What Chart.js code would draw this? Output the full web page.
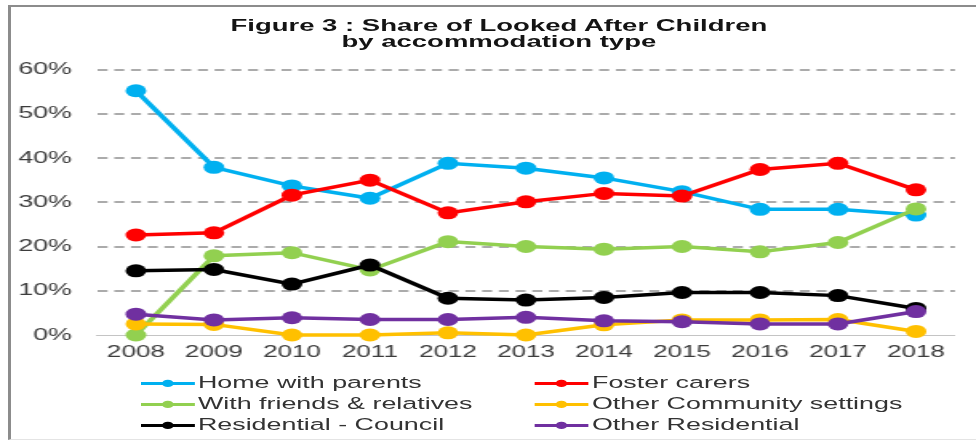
<!DOCTYPE html>
<html>
<head>
<meta charset="utf-8">
<script src="https://cdn.jsdelivr.net/npm/chart.js@4.4.1/dist/chart.umd.min.js"></script>
<style>
  html, body { margin: 0; padding: 0; background: #fff; overflow: hidden; }
  #page { position: relative; width: 976px; height: 442px; overflow: hidden;
          font-family: "Liberation Sans", Arial, sans-serif; }
  #frame { position: absolute; left: 8px; top: 5px; width: 1000px; height: 435px;
           box-sizing: border-box; border-left: 3px solid #8c8c8c;
           border-top: 2px solid #8c8c8c; border-bottom: 1px solid #e4e4e4; }
  /* the figure is laid out narrow and widened horizontally */
  #stretch { position: absolute; left: 0; top: 0; width: 610px; height: 442px;
             transform: scaleX(1.6); transform-origin: 0 0; }
  #title { position: absolute; left: 0; top: 16.8px; width: 623.6px; text-align: center;
           font-weight: bold; font-size: 17.2px; line-height: 16px; color: #141414; }
  #wrap { position: absolute; left: 0; top: 0; width: 610px; height: 442px; }
  .item { position: absolute; height: 20.8px; line-height: 20.8px; font-size: 16.8px;
          color: #333; white-space: nowrap; }
  .item svg { position: absolute; left: 0; top: 0; }
  .item span { position: absolute; left: 35.6px; top: 0; }
</style>
</head>
<body>
<div id="page">
  <div id="frame"></div>
  <div id="stretch">
    <div id="title">Figure 3 : Share of Looked After Children<br>by accommodation type</div>
    <div id="wrap"><canvas id="chart"></canvas></div>
    <div id="legend"></div>
  </div>
</div>
<script>
// Share of looked after children by accommodation type (%)
const years = ['2008', '2009', '2010', '2011', '2012', '2013', '2014', '2015', '2016', '2017', '2018'];
const homeWithParents    = [55.2, 37.9, 33.7, 30.9, 38.8, 37.7, 35.5, 32.4, 28.4, 28.4, 27.1];
const fosterCarers       = [22.6, 23.1, 31.6, 35.0, 27.6, 30.1, 32.0, 31.4, 37.4, 38.8, 32.8];
const friendsRelatives   = [0.0, 17.9, 18.6, 14.7, 21.1, 20.0, 19.4, 20.0, 18.8, 20.9, 28.5];
const otherCommunity     = [2.5, 2.4, 0.0, 0.0, 0.5, 0.0, 2.3, 3.4, 3.4, 3.5, 0.8];
const residentialCouncil = [14.5, 14.8, 11.5, 15.8, 8.3, 7.9, 8.5, 9.6, 9.6, 8.9, 6.0];
const otherResidential   = [4.7, 3.4, 3.9, 3.5, 3.5, 4.0, 3.2, 3.0, 2.5, 2.5, 5.3];
const seriesNames = ['Home with parents', 'Foster carers', 'With friends & relatives',
                     'Other Community settings', 'Residential - Council', 'Other Residential'];
const yTickLabels = ['0%', '10%', '20%', '30%', '40%', '50%', '60%'];

const seriesValues = [homeWithParents, fosterCarers, friendsRelatives,
                      otherCommunity, residentialCouncil, otherResidential];
const palette = ['#00B0F0', '#FF0000', '#92D050', '#FFC000', '#000000', '#7030A0'];

Chart.defaults.font.family = '"Liberation Sans", Arial, sans-serif';

const datasets = seriesValues.map((vals, i) => ({
  label: seriesNames[i],
  data: vals,
  borderColor: palette[i],
  backgroundColor: palette[i],
  pointBackgroundColor: palette[i],
  pointBorderWidth: 0,
  pointRadius: 6.5,
  borderWidth: 3.5,
  tension: 0,
  clip: false,
  order: seriesValues.length - i   // later series sit on top
}));

new Chart(document.getElementById('chart'), {
  type: 'line',
  data: { labels: years, datasets },
  options: {
    responsive: true,
    maintainAspectRatio: false,
    devicePixelRatio: 1,
    animation: false,
    layout: { padding: { top: 69.5, right: 13.1, bottom: 82, left: 0 } },
    plugins: { legend: { display: false }, title: { display: false }, tooltip: { enabled: false } },
    scales: {
      x: {
        offset: true,
        grid: { display: false, drawTicks: false },
        border: { display: true, color: '#c4c4c4', width: 1 },
        ticks: { padding: 8, color: '#3c3c3c', font: { size: 16.3 }, maxRotation: 0, autoSkip: false },
        afterFit(scale) { scale.height = 25; }
      },
      y: {
        min: 0, max: 60,
        ticks: {
          stepSize: 10, padding: 15.6, color: '#3c3c3c', font: { size: 16.8 },
          callback: (v) => yTickLabels[Math.round(v / 10)]
        },
        grid: {
          drawTicks: false, lineWidth: 2,
          color: (ctx) => (ctx.tick && ctx.tick.value === 0) ? 'rgba(0,0,0,0)' : '#ababab'
        },
        border: { display: false, dash: [6.25, 4.2] },
        afterFit(scale) { scale.width = 60.6; }
      }
    }
  }
});

// legend: two columns, three rows
const legend = document.getElementById('legend');
const colLeft = [88.1, 334.4];
seriesNames.forEach((name, i) => {
  const col = i % 2, row = Math.floor(i / 2);
  const item = document.createElement('div');
  item.className = 'item';
  item.style.left = colLeft[col] + 'px';
  item.style.top = (373.2 + row * 20.8) + 'px';
  item.innerHTML =
    '<svg width="34" height="20.8" viewBox="0 0 34 20.8">' +
    '<line x1="0" y1="10.4" x2="33.8" y2="10.4" stroke="' + palette[i] + '" stroke-width="3"/>' +
    '<circle cx="16.9" cy="10.4" r="3.6" fill="' + palette[i] + '"/></svg>' +
    '<span>' + name.replace('&', '&amp;') + '</span>';
  legend.appendChild(item);
});
</script>
</body>
</html>
